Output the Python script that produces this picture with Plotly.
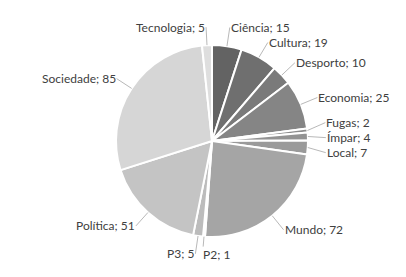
import math
import plotly.graph_objects as go

categories = ["Ciência", "Cultura", "Desporto", "Economia", "Fugas", "Ímpar", "Local",
              "Mundo", "P2", "P3", "Política", "Sociedade", "Tecnologia"]
values = [15, 19, 10, 25, 2, 4, 7, 72, 1, 5, 51, 85, 5]
colors = ["#636363", "#6f6f6f", "#7a7a7a", "#858585", "#8d8d8d", "#939393", "#9a9a9a",
          "#a5a5a5", "#b0b0b0", "#bcbcbc", "#c4c4c4", "#d6d6d6", "#dedede"]

W, H = 406, 277
cx, cy, r = 212, 141, 96
label_gap = 18
min_spacing = 15

fig = go.Figure(go.Pie(
    labels=categories,
    values=values,
    sort=False,
    direction="clockwise",
    rotation=0,
    marker=dict(colors=colors, line=dict(color="white", width=2)),
    textinfo="none",
    automargin=False,
    showlegend=False,
    hoverinfo="label+value",
    domain=dict(x=[(cx - r) / W, (cx + r) / W], y=[(H - cy - r) / H, (H - cy + r) / H]),
))

# Excel-like outside data labels with leader lines, computed from slice angles
total = sum(values)
labels = []
cum = 0
for cat, v in zip(categories, values):
    mid = (cum + v / 2) / total * 360
    cum += v
    t = math.radians(mid)
    ex, ey = cx + r * math.sin(t), cy - r * math.cos(t)
    lx, ly = cx + (r + label_gap) * math.sin(t), cy - (r + label_gap) * math.cos(t)
    side = "left" if math.sin(math.radians(mid - 6)) > 0 else "right"
    labels.append(dict(cat=cat, v=v, ex=ex, ey=ey, lx=lx, ly=ly, side=side))

# simple vertical collision relaxation per side
for side in ("left", "right"):
    grp = sorted([l for l in labels if l["side"] == side], key=lambda l: l["ly"])
    for _ in range(50):
        for a, b in zip(grp, grp[1:]):
            gap = b["ly"] - a["ly"]
            if gap < min_spacing and abs(b["lx"] - a["lx"]) < 40:
                d = (min_spacing - gap) / 2 + 0.01
                a["ly"] -= d
                b["ly"] += d

annotations = []
for l in labels:
    annotations.append(dict(
        x=l["ex"] / W, y=1 - l["ey"] / H, xref="paper", yref="paper",
        ax=l["lx"] - l["ex"], ay=l["ly"] - l["ey"],
        text=f"{l['cat']}; {l['v']}",
        showarrow=True, arrowhead=0, arrowwidth=0.8, arrowcolor="#a6a6a6",
        standoff=0, startstandoff=0,
        xanchor=l["side"], yanchor="middle",
        font=dict(family="Lato", size=12, color="#404040"),
        borderpad=0,
    ))

fig.update_layout(
    width=W, height=H,
    margin=dict(l=0, r=0, t=0, b=0),
    paper_bgcolor="white",
    plot_bgcolor="white",
    annotations=annotations,
)
fig.write_html("out.html", config={"displayModeBar": False},
               post_script="document.body.style.margin='0';")
